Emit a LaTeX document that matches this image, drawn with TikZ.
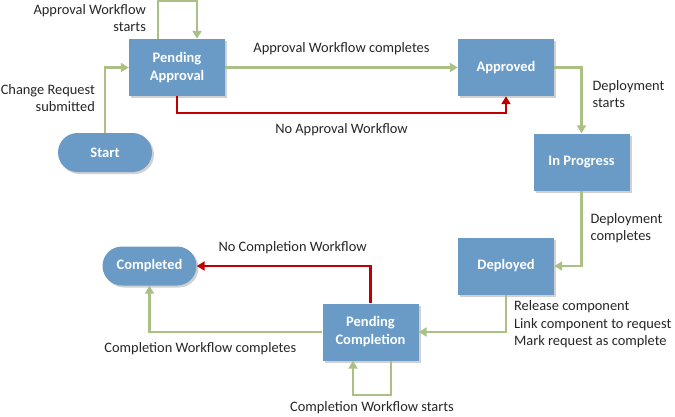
\documentclass[tikz,border=0pt]{standalone}
\usepackage{fontspec}
\setmainfont{Carlito}
\usepackage{xcolor}
\usetikzlibrary{arrows.meta,positioning,shadows}
\definecolor{stateblue}{RGB}{106,155,199}
\definecolor{flowgreen}{RGB}{170,192,132}
\definecolor{flowred}{RGB}{192,0,0}

\begin{document}
\begin{tikzpicture}[x=1pt,y=-1pt,>=Stealth]
\tikzset{
  state/.style={fill=stateblue,text=white,font=\bfseries\fontsize{14.5}{18}\selectfont,
    minimum width=96pt,minimum height=57pt,inner sep=0pt,align=center,
    drop shadow={shadow xshift=2pt,shadow yshift=-2pt,fill=black!18,opacity=1}},
  term/.style={state,minimum width=94pt,minimum height=39pt,rounded corners=19.5pt},
  ok/.style={draw=flowgreen,line width=2.2pt,-{Triangle[length=8pt,width=9pt]}},
  no/.style={draw=flowred,line width=2.2pt,-{Triangle[length=8pt,width=9pt]}},
  lbl/.style={font=\fontsize{14.4}{17.5}\selectfont,text=black!85,inner sep=0pt}
}
\useasboundingbox (0,0) rectangle (675,416);

\node[state] (pa) at (177,67.5) {Pending\\Approval};
\node[state] (appr) at (506,67.5) {Approved};
\node[state] (prog) at (581.5,162) {In Progress};
\node[state] (dep) at (506,266) {Deployed};
\node[state] (pc) at (370.5,332) {Pending\\Completion};
\node[term] (start) at (105,152.5) {Start};
\node[term] (done) at (149.5,266) {Completed};

\draw[ok] (start.north) |- node[lbl,pos=0.267,anchor=east,xshift=-9pt,align=right]
  {Change Request\\submitted} (pa.west);
\draw[ok] ([xshift=-19pt]pa.north) -- node[lbl,pos=0.54,anchor=east,xshift=-11pt,align=right]
  {Approval Workflow\\starts} ++(0,-38) -| ([xshift=20pt]pa.north);
\draw[ok] (pa) -- node[lbl,midway,yshift=18.5pt] {Approval Workflow completes} (appr);
\draw[no] (pa.south) -- ++(0,17) -| node[lbl,pos=0.25,yshift=-16pt] {No Approval Workflow} (appr.south);
\draw[ok] (appr.east) -| node[lbl,pos=0.7,anchor=west,xshift=10pt,align=left]
  {Deployment\\starts} (prog.north);
\draw[ok] (prog.south) |- node[lbl,pos=0.25,anchor=west,xshift=8pt,align=left]
  {Deployment\\completes} (dep.east);
\draw[ok] (dep.south) |- node[lbl,pos=0,anchor=north west,xshift=7pt,yshift=-5pt,align=left]
  {Release component\\Link component to request\\Mark request as complete} (pc.east);
\draw[ok] (pc.west) -| node[lbl,pos=0.353,yshift=-17pt] {Completion Workflow completes} (done.south);
\draw[no] (pc.north) |- node[lbl,pos=0.724,yshift=18pt] {No Completion Workflow} (done.east);
\draw[ok] ([xshift=20.5pt]pc.south) -- ++(0,34) -| node[lbl,pos=0.25,yshift=-13pt]
  {Completion Workflow starts} ([xshift=-17.5pt]pc.south);
\end{tikzpicture}
\end{document}
